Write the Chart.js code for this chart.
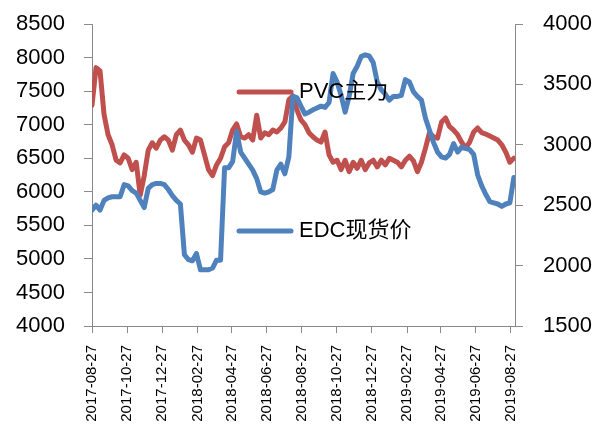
<!DOCTYPE html>
<html>
<head>
<meta charset="utf-8">
<script src="https://cdn.jsdelivr.net/npm/chart.js@4.4.1/dist/chart.umd.min.js"></script>
<style>
  html, body { margin: 0; padding: 0; background: #ffffff; }
  #c { display: block; }
</style>
</head>
<body>
<canvas id="c" width="597" height="426"></canvas>
<script>
// Weekly observations starting from this date
const startDate = '2017-08-27';

// Axis labels on the date axis (every two months)
const tickLabels = [
  '2017-08-27', '2017-10-27', '2017-12-27', '2018-02-27', '2018-04-27',
  '2018-06-27', '2018-08-27', '2018-10-27', '2018-12-27', '2019-02-27',
  '2019-04-27', '2019-06-27', '2019-08-27'
];

const seriesNames = ['PVC主力', 'EDC现货价'];

// PVC main contract, yuan/ton (left axis)
const pvcMain = [
  7290, 7850, 7800, 7150, 6850, 6700, 6470, 6430, 6550, 6500,
  6330, 6440, 5950, 6240, 6620, 6730, 6650, 6770, 6820, 6770,
  6620, 6850, 6920, 6770, 6700, 6590, 6800, 6770, 6550, 6330,
  6240, 6400, 6500, 6670, 6730, 6920, 7010, 6820, 6800, 6850,
  6770, 7140, 6800, 6880, 6850, 6920, 6890, 6950, 7040, 7370,
  7430, 7220, 7070, 7000, 6880, 6820, 6770, 6740, 6890, 6550,
  6440, 6470, 6330, 6470, 6300, 6440, 6350, 6470, 6330, 6430,
  6470, 6370, 6470, 6400, 6500, 6470, 6440, 6370, 6470, 6530,
  6460, 6300, 6440, 6650, 6880, 6820, 6800, 7040, 7100, 6970,
  6920, 6850, 6740, 6650, 6740, 6890, 6950, 6880, 6860, 6830,
  6800, 6770, 6700, 6590, 6440, 6500
];

// EDC spot price (right axis)
const edcSpot = [
  2460, 2500, 2460, 2540, 2560, 2570, 2570, 2570, 2670, 2660,
  2620, 2600, 2540, 2480, 2640, 2670, 2680, 2680, 2670, 2630,
  2580, 2540, 2510, 2090, 2050, 2040, 2100, 1965, 1965, 1965,
  1980, 2045, 2045, 2810, 2810, 2860, 3110, 2940, 2890, 2840,
  2790, 2720, 2610, 2600, 2610, 2630, 2790, 2840, 2760, 2900,
  3400, 3390, 3320, 3255, 3270, 3290, 3305, 3320, 3310, 3350,
  3590, 3520, 3410, 3270, 3400, 3590, 3650, 3730, 3745, 3735,
  3680, 3520, 3455, 3420, 3370, 3400, 3400, 3410, 3540, 3520,
  3440, 3400, 3370, 3220, 3120, 3020, 2940, 2900, 2890, 2920,
  3010, 2940, 2980, 2970, 2960, 2920, 2750, 2660, 2590, 2530,
  2520, 2510, 2490, 2510, 2520, 2730
];

const DAY_MS = 86400000;
const t0 = Date.parse(startDate);
const dayOf = s => Math.round((Date.parse(s) - t0) / DAY_MS);
const tickDays = tickLabels.map(dayOf);
const obsDays = pvcMain.map((_, i) => i * 7);
const lastDay = obsDays[obsDays.length - 1] + 2;

const FONT = '"Liberation Sans", "Noto Sans CJK SC", sans-serif';
Chart.defaults.font.family = FONT;
Chart.defaults.color = '#000000';

const RED = '#C0504D';
const BLUE = '#4F81BD';
const AXIS = '#898989';

// In-plot legend: a line sample followed by the series name
const inlineLegend = {
  id: 'inlineLegend',
  afterDatasetsDraw(chart) {
    const ctx = chart.ctx;
    const items = [
      { text: seriesNames[0], color: RED, y: 92 },
      { text: seriesNames[1], color: BLUE, y: 231 }
    ];
    ctx.save();
    items.forEach(it => {
      ctx.strokeStyle = it.color;
      ctx.lineWidth = 5;
      ctx.lineCap = 'round';
      ctx.beginPath();
      ctx.moveTo(239, it.y);
      ctx.lineTo(291, it.y);
      ctx.stroke();
      ctx.fillStyle = '#000000';
      ctx.font = '22px ' + FONT;
      ctx.textBaseline = 'middle';
      ctx.textAlign = 'left';
      ctx.fillText(it.text, 299, it.y);
    });
    ctx.restore();
  }
};

const plainNumber = v => String(v);

// Fixed side-axis width; keep only half a label of headroom above/below
const sideAxisFit = width => s => {
  s.width = width;
  s.paddingTop = 12;
  s.paddingBottom = 12;
};

new Chart(document.getElementById('c'), {
  type: 'line',
  data: {
    datasets: [
      {
        label: seriesNames[1],
        data: obsDays.map((d, i) => ({ x: d, y: edcSpot[i] })),
        yAxisID: 'yR',
        borderColor: BLUE,
        borderWidth: 5,
        pointRadius: 0,
        borderJoinStyle: 'round',
        borderCapStyle: 'round',
        tension: 0,
        order: 0
      },
      {
        label: seriesNames[0],
        data: obsDays.map((d, i) => ({ x: d, y: pvcMain[i] })),
        yAxisID: 'yL',
        borderColor: RED,
        borderWidth: 5,
        pointRadius: 0,
        borderJoinStyle: 'round',
        borderCapStyle: 'round',
        tension: 0,
        order: 1
      }
    ]
  },
  options: {
    responsive: false,
    animation: false,
    layout: { autoPadding: false, padding: { top: 24, left: 0, right: 0, bottom: 0 } },
    plugins: { legend: { display: false }, tooltip: { enabled: false } },
    scales: {
      x: {
        type: 'linear',
        min: 0,
        max: lastDay,
        afterBuildTicks: s => { s.ticks = tickDays.map(v => ({ value: v })); },
        afterFit: s => { s.height = 100; },
        ticks: {
          autoSkip: false,
          maxRotation: 90,
          minRotation: 90,
          padding: 12,
          font: { size: 15 },
          callback: v => tickLabels[tickDays.indexOf(v)]
        },
        grid: { drawOnChartArea: false, drawTicks: true, tickLength: 7, color: AXIS },
        border: { color: AXIS, width: 1 }
      },
      yL: {
        position: 'left',
        min: 4000,
        max: 8500,
        afterFit: sideAxisFit(92),
        ticks: { stepSize: 500, padding: 19, font: { size: 22 }, callback: plainNumber },
        grid: { drawOnChartArea: false, drawTicks: true, tickLength: 8, color: AXIS },
        border: { color: AXIS, width: 1 }
      },
      yR: {
        position: 'right',
        min: 1500,
        max: 4000,
        afterFit: sideAxisFit(82),
        ticks: { stepSize: 500, padding: 20, font: { size: 22 }, callback: plainNumber },
        grid: { drawOnChartArea: false, drawTicks: true, tickLength: 8, color: AXIS },
        border: { color: AXIS, width: 1 }
      }
    }
  },
  plugins: [inlineLegend]
});
</script>
</body>
</html>
